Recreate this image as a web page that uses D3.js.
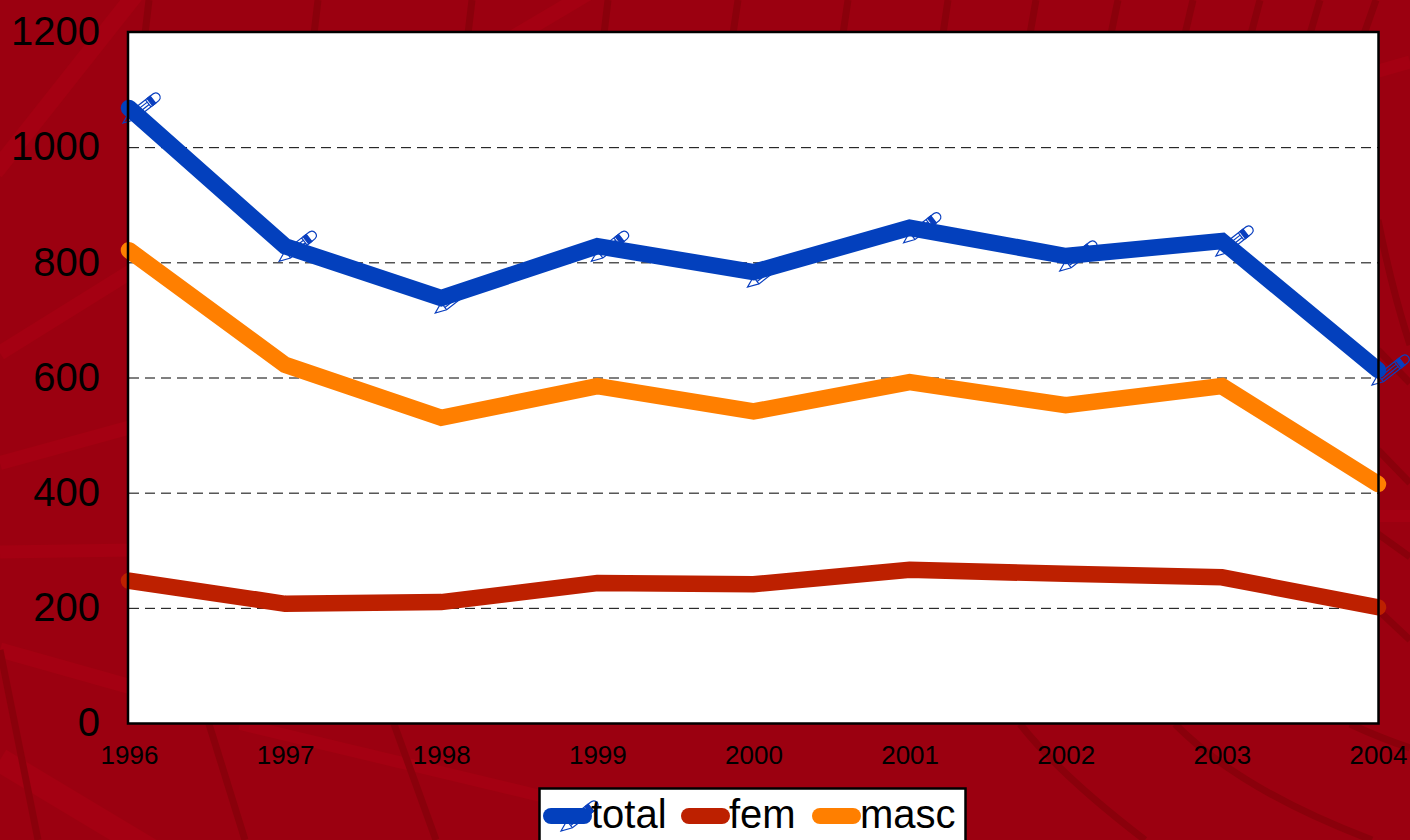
<!DOCTYPE html>
<html>
<head>
<meta charset="utf-8">
<script src="https://cdn.jsdelivr.net/npm/d3@7"></script>
<style>
  html, body { margin: 0; padding: 0; background: #9b0010; overflow: hidden; }
  svg { display: block; font-family: "Liberation Sans", Arial, sans-serif; }
  .grid line { stroke: #000; stroke-width: 1; stroke-dasharray: 10 6; }
  .axis text { fill: #000; }
  .series { fill: none; stroke-width: 16.5; stroke-linecap: round; stroke-linejoin: miter; }
  .pencil { fill: none; stroke: #0a3fbf; stroke-width: 1.2; }
</style>
</head>
<body>
<svg id="svg" width="1410" height="840"></svg>
<script>
var years = ['1996', '1997', '1998', '1999', '2000', '2001', '2002', '2003', '2004'];
var total = [1068, 828, 738, 828, 783, 860, 811, 837, 613];
var fem = [247, 207, 210, 243, 241, 266, 259, 253, 201];
var masc = [821, 622, 530, 585, 541, 592, 552, 585, 415];
var yTicks = [0, 200, 400, 600, 800, 1000, 1200];

var seriesNames = ['total', 'fem', 'masc'];
var seriesColors = ['#0340bd', '#bd2000', '#ff7f00'];

// background streaks of the slide template
var darkStreaks = [
  'M149,0 L145,34', 'M318,0 L314,34', 'M472,0 L468,34', 'M608,0 L604,34',
  'M738,0 L733,34', 'M848,0 L843,34', 'M948,0 L943,34', 'M1036,0 L1030,34',
  'M1118,0 L1111,34', 'M1193,0 L1185,34', 'M1260,0 L1251,34', 'M1320,0 L1310,34', 'M1376,0 L1364,34',
  'M0,650 L38,840', 'M209,724 L245,840', 'M394,724 L436,840',
  'M1020,724 Q1060,775 1145,840', 'M1175,724 Q1240,790 1372,840', 'M1350,724 Q1380,738 1410,748',
  'M1378,220 Q1392,290 1410,345', 'M1378,350 L1410,383', 'M1378,450 L1410,483',
  'M1378,534 L1410,557', 'M1378,610 L1410,640'
];
var lightStreaks = [
  {d: 'M-5,172 L135,-5', w: 17},
  {d: 'M0,353 L135,269', w: 15}, {d: 'M0,463 L135,426', w: 14},
  {d: 'M0,552 L135,550', w: 13}, {d: 'M0,650 L135,688', w: 15},
  {d: 'M0,760 L160,856', w: 24}, {d: 'M509,40 L590,-8', w: 15},
  {d: 'M240,724 L545,797', w: 12}, {d: 'M1375,72 L1410,62', w: 13},
  {d: 'M1375,516 L1410,516', w: 12}
];

// pencil glyph used as the marker of the total series, tip at the origin
var pencilPath = 'M0,0 L11,-4.5 L39,-4.5 Q46,-5 46,0 Q46,5 39,4.5 L11,4.5 Z ' +
  'M11,-1.5 L32,-1.5 M11,1.5 L32,1.5 M11,-4.5 L11,4.5 M32,-4.5 L32,4.5';
var pencilBand = 'M34,-4.5 L38,-4.5 L38,4.5 L34,4.5 Z';

var svg = d3.select('#svg');
var m = {top: 32, right: 1378, bottom: 723, left: 129};

var x = d3.scalePoint().domain(years).range([m.left, m.right]);
var y = d3.scaleLinear().domain([0, 1200]).range([m.bottom, m.top]);

var bg = svg.append('g');
bg.append('rect').attr('width', 1410).attr('height', 840).attr('fill', '#9b0010');
bg.selectAll('path.light').data(lightStreaks).enter().append('path')
  .attr('class', 'light')
  .attr('d', function (d) { return d.d; })
  .attr('fill', 'none')
  .attr('stroke', '#a40012')
  .attr('stroke-width', function (d) { return d.w; });
bg.selectAll('path.dark').data(darkStreaks).enter().append('path')
  .attr('class', 'dark')
  .attr('d', function (d) { return d; })
  .attr('fill', 'none')
  .attr('stroke', '#8a000b')
  .attr('stroke-width', 7);

// plot area
svg.append('rect')
  .attr('x', m.left).attr('y', m.top)
  .attr('width', m.right - m.left).attr('height', m.bottom - m.top)
  .attr('fill', '#fff');

// grid and left labels
var yAxis = svg.append('g')
  .attr('class', 'grid axis')
  .attr('transform', 'translate(' + m.left + ',0)')
  .call(d3.axisLeft(y).tickValues(yTicks).tickFormat(d3.format('d')).tickSize(-(m.right - m.left)).tickPadding(29));
yAxis.select('.domain').remove();
yAxis.selectAll('text').attr('font-size', 40).attr('font-family', '"Liberation Sans", Arial, sans-serif');

var xAxis = svg.append('g')
  .attr('class', 'axis')
  .attr('transform', 'translate(0,' + m.bottom + ')')
  .call(d3.axisBottom(x).tickSize(0).tickPadding(23));
xAxis.select('.domain').remove();
xAxis.selectAll('text').attr('font-size', 26).attr('font-family', '"Liberation Sans", Arial, sans-serif');

function drawPencil(g, px, py) {
  var p = g.append('g')
    .attr('class', 'pencil')
    .attr('transform', 'translate(' + (px - 6) + ',' + (py + 15) + ') rotate(-38)');
  p.append('path').attr('d', pencilPath);
  p.append('path').attr('d', pencilBand).attr('fill', '#0a3fbf');
}

// total markers go under the line
var markers = svg.append('g');
years.forEach(function (yr, i) {
  drawPencil(markers, x(yr), y(total[i]));
});

var line = d3.line()
  .x(function (d, i) { return x(years[i]); })
  .y(function (d) { return y(d); });

svg.selectAll('path.series')
  .data([masc, fem, total])
  .enter().append('path')
  .attr('class', 'series')
  .attr('d', line)
  .attr('stroke', function (d) {
    if (d === total) return seriesColors[0];
    if (d === fem) return seriesColors[1];
    return seriesColors[2];
  });

// frame
svg.append('rect')
  .attr('x', 128).attr('y', 32)
  .attr('width', 1250.5).attr('height', 691.5)
  .attr('fill', 'none').attr('stroke', '#000').attr('stroke-width', 2.5);

// legend
var legend = svg.append('g');
legend.append('rect')
  .attr('x', 539.5).attr('y', 788.5)
  .attr('width', 426).attr('height', 70)
  .attr('fill', '#fff').attr('stroke', '#000').attr('stroke-width', 2.5);

var keyX = [543, 681, 812];
var labelX = [591, 729, 860];
drawPencil(legend, 567, 816);
seriesNames.forEach(function (name, i) {
  legend.append('line')
    .attr('x1', keyX[i] + 8).attr('x2', keyX[i] + 41)
    .attr('y1', 816).attr('y2', 816)
    .attr('stroke', seriesColors[i])
    .attr('stroke-width', 16)
    .attr('stroke-linecap', 'round');
  legend.append('text')
    .attr('x', labelX[i]).attr('y', 828)
    .attr('font-size', 40)
    .attr('fill', '#000')
    .text(name);
});
</script>
</body>
</html>
